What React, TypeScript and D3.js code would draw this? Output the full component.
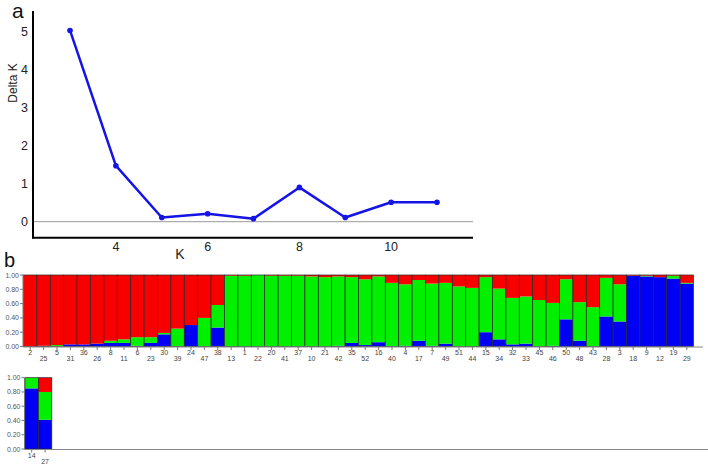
import React from 'react';
import * as d3 from 'd3';

// panel a: Delta K by K
const kValues = [3, 4, 5, 6, 7, 8, 9, 10, 11];
const deltaK = [5.02, 1.47, 0.11, 0.21, 0.08, 0.9, 0.11, 0.51, 0.51];
const kTicks = [4, 6, 8, 10];
const dTicks = [0, 1, 2, 3, 4, 5];

// panel b: membership per individual (row 1 and row 2)
const row1Labels = ['2', '25', '5', '31', '36', '26', '8', '11', '6', '23', '30', '39', '24', '47', '38', '13',
  '1', '22', '20', '41', '37', '10', '21', '42', '35', '52', '16', '40', '4', '17', '7', '49', '51', '44',
  '15', '34', '32', '33', '45', '46', '50', '48', '43', '28', '3', '18', '9', '12', '19', '29'];
const row1Blue = [0, 0.01, 0, 0.03, 0.03, 0.04, 0.05, 0.05, 0.01, 0.05, 0.17, 0, 0.3, 0, 0.265, 0,
  0, 0, 0, 0, 0, 0, 0, 0.01, 0.05, 0.02, 0.06, 0, 0.01, 0.08, 0.01, 0.04, 0, 0,
  0.2, 0.1, 0.03, 0.04, 0, 0.01, 0.38, 0.08, 0, 0.42, 0.35, 0.99, 0.98, 0.97, 0.95, 0.88];
const row1Green = [0, 0, 0.02, 0, 0, 0, 0.03, 0.05, 0.12, 0.08, 0.02, 0.25, 0, 0.4, 0.315, 0.99,
  0.99, 1, 0.99, 0.99, 0.99, 0.98, 0.97, 0.97, 0.92, 0.92, 0.92, 0.89, 0.86, 0.85, 0.87, 0.85, 0.84, 0.82,
  0.77, 0.71, 0.65, 0.66, 0.65, 0.6, 0.56, 0.54, 0.55, 0.54, 0.52, 0, 0.01, 0, 0.04, 0.01];
const row1Red = [1, 0.99, 0.98, 0.97, 0.97, 0.96, 0.92, 0.9, 0.87, 0.87, 0.81, 0.75, 0.7, 0.6, 0.42, 0.01,
  0.01, 0, 0.01, 0.01, 0.01, 0.02, 0.03, 0.02, 0.03, 0.06, 0.02, 0.11, 0.13, 0.07, 0.12, 0.11, 0.16, 0.18,
  0.03, 0.19, 0.32, 0.3, 0.35, 0.39, 0.06, 0.38, 0.45, 0.04, 0.13, 0.01, 0.01, 0.03, 0.01, 0.11];

const row2Labels = ['14', '27'];
const row2Blue = [0.85, 0.41];
const row2Green = [0.15, 0.39];
const row2Red = [0, 0.2];

const yTicks = [0, 0.2, 0.4, 0.6, 0.8, 1];
const BLUE = '#0000f4';
const GREEN = '#00f000';
const RED = '#f80000';
const FONT = '"Liberation Sans", Arial, sans-serif';

type RowProps = {
  labels: string[];
  blue: number[];
  green: number[];
  red: number[];
  x0: number;
  top: number;
  bottom: number;
  lineEnd: number;
};

function StructureRow({ labels, blue, green, red, x0, top, bottom, lineEnd }: RowProps) {
  const step = 13.4;
  const x = d3.scaleBand<string>().domain(labels).range([x0, x0 + step * labels.length]).padding(0);
  const y = d3.scaleLinear().domain([0, 1]).range([bottom, top]);
  const axisX = x0 - 0.5;
  return (
    <g>
      {labels.map((lab, i) => {
        const segs = [
          { v0: 0, v1: blue[i], c: BLUE },
          { v0: blue[i], v1: blue[i] + green[i], c: GREEN },
          { v0: blue[i] + green[i], v1: blue[i] + green[i] + red[i], c: RED },
        ];
        const bx = x(lab) as number;
        return (
          <g key={lab}>
            {segs.map((s, j) =>
              s.v1 > s.v0 ? (
                <rect key={j} x={bx} width={x.bandwidth()} y={y(Math.min(1, s.v1))}
                  height={y(s.v0) - y(Math.min(1, s.v1))} fill={s.c} />
              ) : null
            )}
            <rect x={bx} width={x.bandwidth()} y={y(1)} height={y(0) - y(1)}
              fill="none" stroke="#2a2a2a" strokeWidth={0.7} />
          </g>
        );
      })}
      <line x1={axisX} x2={lineEnd} y1={bottom + 0.5} y2={bottom + 0.5} stroke="#888" strokeWidth={1} />
      <line x1={axisX} x2={axisX} y1={top} y2={bottom + 0.5} stroke="#777" strokeWidth={1} />
      {yTicks.map(t => (
        <g key={t}>
          <line x1={axisX - 3} x2={axisX} y1={y(t)} y2={y(t)} stroke="#777" strokeWidth={1} />
          <text x={axisX - 4} y={y(t) + 2.5} fontSize={7} fill="#555" textAnchor="end" fontFamily={FONT}>
            {t.toFixed(2)}
          </text>
        </g>
      ))}
      {labels.map((lab, i) => {
        const cx = (x(lab) as number) + x.bandwidth() / 2;
        return (
          <g key={'l' + lab}>
            <line x1={cx} x2={cx} y1={bottom + 0.5} y2={bottom + 3.5} stroke="#777" strokeWidth={1} />
            <text x={cx} y={bottom + (i % 2 === 0 ? 8.5 : 14.5)} fontSize={7} fill="#444"
              textAnchor="middle" fontFamily={FONT}>{lab}</text>
          </g>
        );
      })}
    </g>
  );
}

export default function App() {
  const xK = d3.scaleLinear().domain([3, 11]).range([70, 437]);
  const yD = d3.scaleLinear().domain([0, 5]).range([221.7, 31.2]);
  const line = d3.line<number>().x((_, i) => xK(kValues[i])).y(d => yD(d));

  return (
    <svg width={708} height={468} style={{ position: 'absolute', left: 0, top: 0 }}>
      <rect width={708} height={468} fill="#fff" />
      {/* panel a */}
      <text x={12} y={18} fontSize={21} fontFamily={FONT} fill="#111">a</text>
      <line x1={33} x2={473} y1={yD(0)} y2={yD(0)} stroke="#999" strokeWidth={1} />
      <line x1={33} x2={33} y1={11} y2={238.5} stroke="#000" strokeWidth={2} />
      <line x1={32} x2={473} y1={237.7} y2={237.7} stroke="#000" strokeWidth={2} />
      {dTicks.map(t => (
        <text key={t} x={28} y={yD(t) + 4.5} fontSize={12.5} textAnchor="end" fontFamily={FONT} fill="#222">{t}</text>
      ))}
      {kTicks.map(t => (
        <text key={t} x={xK(t)} y={251} fontSize={12.5} textAnchor="middle" fontFamily={FONT} fill="#222">{t}</text>
      ))}
      <text x={180} y={259} fontSize={14} textAnchor="middle" fontFamily={FONT} fill="#222">K</text>
      <text transform="translate(17,83) rotate(-90)" fontSize={12} textAnchor="middle" fontFamily={FONT} fill="#222">Delta K</text>
      <path d={line(deltaK) ?? ''} fill="none" stroke="#1414e6" strokeWidth={2.5} strokeLinejoin="round" />
      {deltaK.map((d, i) => (
        <circle key={i} cx={xK(kValues[i])} cy={yD(d)} r={2.8} fill="#1414e6" />
      ))}
      {/* panel b */}
      <text x={4} y={267} fontSize={20} fontFamily={FONT} fill="#111">b</text>
      <StructureRow labels={row1Labels} blue={row1Blue} green={row1Green} red={row1Red}
        x0={23.5} top={275} bottom={346.5} lineEnd={703} />
      <StructureRow labels={row2Labels} blue={row2Blue} green={row2Green} red={row2Red}
        x0={25} top={377.7} bottom={449} lineEnd={708} />
    </svg>
  );
}
